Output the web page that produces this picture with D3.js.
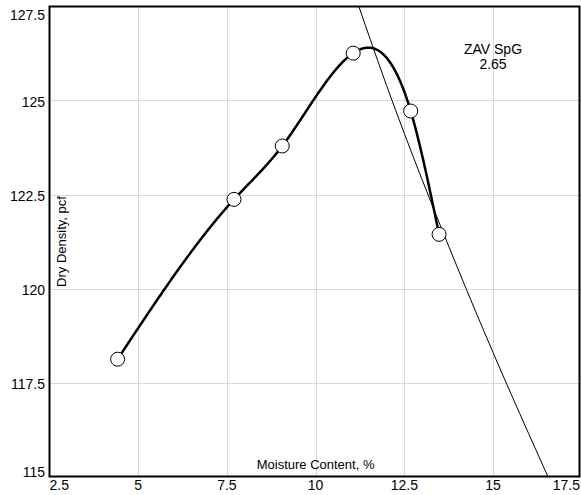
<!DOCTYPE html>
<html>
<head>
<meta charset="utf-8">
<script src="https://d3js.org/d3.v7.min.js"></script>
<style>
  body { margin: 0; background: #fff; }
  text { font-family: "Liberation Sans", Arial, sans-serif; fill: #000; }
</style>
</head>
<body>
<svg id="chart" width="581" height="495"></svg>
<script>
// compaction test points (moisture %, dry density pcf)
var moisture = [4.42, 7.70, 9.06, 11.06, 12.68, 13.48];
var density  = [118.12, 122.37, 123.79, 126.26, 124.72, 121.44];

// zero air voids line
var zavMoisture = [11.0, 12.0, 13.0, 14.0, 15.0, 16.0, 17.0];
var zavDensity  = [128.1, 125.4, 122.9, 120.55, 118.3, 116.15, 114.05];

var xTicks = [2.5, 5, 7.5, 10, 12.5, 15, 17.5];
var yTicks = [115, 117.5, 120, 122.5, 125, 127.5];

var svg = d3.select("#chart");
var plotL = 49.5, plotR = 579.5, plotT = 6.5, plotB = 476.5;

var x = d3.scaleLinear().domain([2.5, 17.5]).range([plotL, 581.7]);
var y = d3.scaleLinear().domain([115, 127.5]).range([plotB, plotT]);

// natural cubic spline of y over x, used to draw the smooth fitted curve
function spline(xs, ys) {
  var n = xs.length, h = [], M = new Array(n).fill(0);
  for (var i = 0; i < n - 1; i++) h.push(xs[i + 1] - xs[i]);
  var a = [], b = [], c = [], r = [];
  for (var i = 1; i < n - 1; i++) {
    a.push(h[i - 1]); b.push(2 * (h[i - 1] + h[i])); c.push(h[i]);
    r.push(6 * ((ys[i + 1] - ys[i]) / h[i] - (ys[i] - ys[i - 1]) / h[i - 1]));
  }
  var m = b.length;
  for (var i = 1; i < m; i++) {
    var w = a[i] / b[i - 1];
    b[i] -= w * c[i - 1];
    r[i] -= w * r[i - 1];
  }
  for (var i = m - 1; i >= 0; i--) {
    M[i + 1] = (r[i] - (i < m - 1 ? c[i] * M[i + 2] : 0)) / b[i];
  }
  return function(v) {
    var k = 0;
    while (k < n - 2 && v > xs[k + 1]) k++;
    var t = v - xs[k], hk = h[k];
    var s = (ys[k + 1] - ys[k]) / hk - hk * (2 * M[k] + M[k + 1]) / 6;
    return ys[k] + s * t + M[k] / 2 * t * t + (M[k + 1] - M[k]) / (6 * hk) * t * t * t;
  };
}

svg.append("defs").append("clipPath").attr("id", "plot")
  .append("rect")
  .attr("x", plotL).attr("y", plotT)
  .attr("width", plotR - plotL).attr("height", plotB - plotT);

// grid
svg.append("g").selectAll("line")
  .data(xTicks.slice(1, -1))
  .enter().append("line")
  .attr("x1", function(d) { return Math.round(x(d)) + 0.5; })
  .attr("x2", function(d) { return Math.round(x(d)) + 0.5; })
  .attr("y1", plotT).attr("y2", plotB)
  .style("stroke", "#d9d9d9").style("stroke-width", 1);

svg.append("g").selectAll("line")
  .data(yTicks.slice(1, -1))
  .enter().append("line")
  .attr("y1", function(d) { return Math.round(y(d)) + 0.5; })
  .attr("y2", function(d) { return Math.round(y(d)) + 0.5; })
  .attr("x1", plotL).attr("x2", plotR)
  .style("stroke", "#d9d9d9").style("stroke-width", 1);

var zav = zavMoisture.map(function(m, i) { return [m, zavDensity[i]]; });
var pts = moisture.map(function(m, i) { return [m, density[i]]; });

var fit = spline(moisture, density);
var fitPts = d3.range(moisture[0], moisture[moisture.length - 1], 0.02)
  .concat([moisture[moisture.length - 1]])
  .map(function(v) { return [v, fit(v)]; });

var plot = svg.append("g").attr("clip-path", "url(#plot)");

var line = d3.line()
  .x(function(d) { return x(d[0]); })
  .y(function(d) { return y(d[1]); });

// ZAV line
plot.append("path")
  .datum(zav)
  .attr("d", line.curve(d3.curveNatural))
  .style("fill", "none")
  .style("stroke", "#000")
  .style("stroke-width", 1);

// compaction curve
plot.append("path")
  .datum(fitPts)
  .attr("d", line.curve(d3.curveLinear))
  .style("fill", "none")
  .style("stroke", "#000")
  .style("stroke-width", 2.5);

plot.selectAll("circle")
  .data(pts)
  .enter().append("circle")
  .attr("cx", function(d) { return x(d[0]); })
  .attr("cy", function(d) { return y(d[1]); })
  .attr("r", 7)
  .style("fill", "#fff")
  .style("stroke", "#000")
  .style("stroke-width", 1);

// frame
svg.append("rect")
  .attr("x", plotL).attr("y", plotT)
  .attr("width", plotR - plotL).attr("height", plotB - plotT)
  .style("fill", "none").style("stroke", "#000").style("stroke-width", 2);

// x tick labels
svg.append("g").selectAll("text")
  .data(xTicks)
  .enter().append("text")
  .attr("x", function(d, i) { return i == 0 ? plotL : (i == xTicks.length - 1 ? 580 : x(d)); })
  .attr("y", 490)
  .attr("text-anchor", function(d, i) { return i == 0 ? "start" : (i == xTicks.length - 1 ? "end" : "middle"); })
  .style("font-size", "14px")
  .text(function(d) { return d; });

// y tick labels
svg.append("g").selectAll("text")
  .data(yTicks)
  .enter().append("text")
  .attr("x", 45)
  .attr("y", function(d, i) {
    if (i == 0) return plotB;
    if (i == yTicks.length - 1) return 20;
    return y(d) + 6;
  })
  .attr("text-anchor", "end")
  .style("font-size", "14px")
  .text(function(d) { return d; });

// axis titles
svg.append("text")
  .attr("x", x(10)).attr("y", 469)
  .attr("text-anchor", "middle")
  .style("font-size", "13px")
  .text("Moisture Content, %");

svg.append("text")
  .attr("transform", "translate(66," + (plotT + plotB) / 2 + ") rotate(-90)")
  .attr("text-anchor", "middle")
  .style("font-size", "13px")
  .text("Dry Density, pcf");

// ZAV label
var zl = svg.append("text")
  .attr("text-anchor", "middle")
  .style("font-size", "14px");
zl.append("tspan").attr("x", x(15)).attr("y", 54).text("ZAV SpG");
zl.append("tspan").attr("x", x(15)).attr("y", 69).text("2.65");
</script>
</body>
</html>
